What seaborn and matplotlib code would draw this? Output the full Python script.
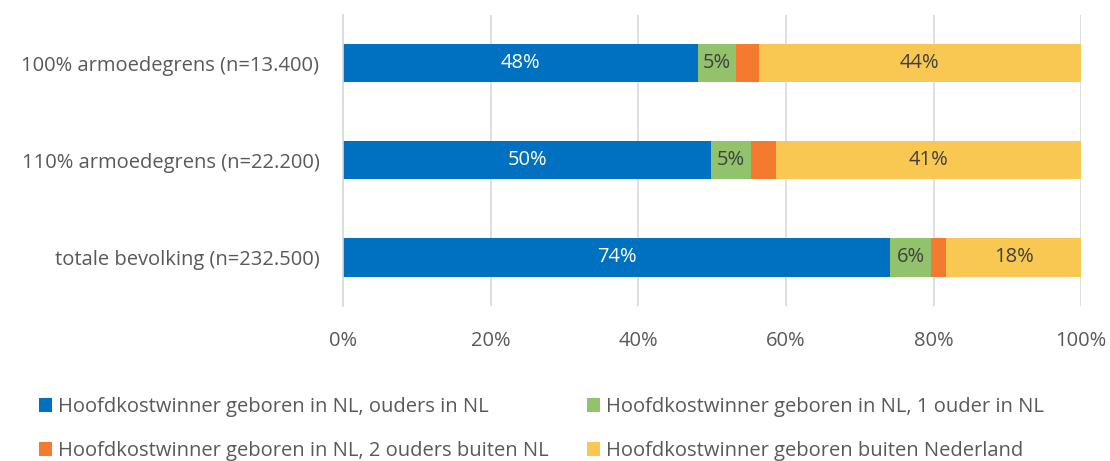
import numpy as np
import pandas as pd
import matplotlib
matplotlib.use("Agg")
import matplotlib.pyplot as plt
from matplotlib.patches import Patch
import seaborn as sns

sns.set_theme(style="white")
plt.rcParams['font.family'] = ['Open Sans', 'DejaVu Sans']

# ---- data ----
categories = ["100% armoedegrens (n=13.400)",
              "110% armoedegrens (n=22.200)",
              "totale bevolking (n=232.500)"]
series = ["Hoofdkostwinner geboren in NL, ouders in NL",
          "Hoofdkostwinner geboren in NL, 1 ouder in NL",
          "Hoofdkostwinner geboren in NL, 2 ouders buiten NL",
          "Hoofdkostwinner geboren buiten Nederland"]
nl_ouders_nl = [48.1, 49.9, 74.1]
nl_1_ouder = [5.2, 5.4, 5.6]
nl_2_ouders_buiten = [3.0, 3.3, 2.0]
buiten_nl = [43.7, 41.4, 18.3]
labels_shown = [True, True, False, True]

colors = ["#0070C0", "#92C26B", "#F47A30", "#F9C852"]
label_colors = ["white", "#404040", "#404040", "#404040"]
text_gray = "#595959"

df = pd.DataFrame({"cat": categories,
                   series[0]: nl_ouders_nl,
                   series[1]: nl_1_ouder,
                   series[2]: nl_2_ouders_buiten,
                   series[3]: buiten_nl})
cum = df[series].cumsum(axis=1)

fig = plt.figure(figsize=(11.1, 4.61), dpi=100)
ax = fig.add_axes([0.309, 0.337, 0.665, 0.6315])

# draw cumulative bars from right-most segment to left-most
for s, c in reversed(list(zip(series, colors))):
    sns.barplot(x=cum[s], y=df["cat"], color=c, width=0.4, ax=ax,
                saturation=1, linewidth=0, orient="h")

# segment labels
for i, s in enumerate(series):
    if not labels_shown[i]:
        continue
    start = cum[s] - df[s]
    for j in range(len(categories)):
        ax.text(start[j] + df[s][j] / 2, j, f"{df[s][j]:.0f}%",
                ha="center", va="center", fontsize=14.5, color=label_colors[i])

ax.set_xlim(0, 100)
ax.set_ylim(2.5, -0.5)
ax.set_xticks(np.arange(0, 101, 20))
ax.set_xticklabels([f"{v}%" for v in range(0, 101, 20)])
ax.set_xlabel("")
ax.set_ylabel("")
ax.grid(axis="x", color="#D9D9D9", linewidth=1.2)
ax.set_axisbelow(True)
for sp in ["top", "right", "bottom"]:
    ax.spines[sp].set_visible(False)
ax.spines["left"].set_color("#D9D9D9")
ax.spines["left"].set_linewidth(1.2)
ax.tick_params(axis="both", length=0, labelsize=14.5, colors=text_gray)
ax.tick_params(axis="x", pad=18)
ax.tick_params(axis="y", pad=17)

handles = [Patch(facecolor=c, edgecolor="none") for c in colors]
order = [0, 2, 1, 3]
fig.legend([handles[k] for k in order], [series[k] for k in order],
           loc="upper left", bbox_to_anchor=(0.019, 0.178), ncol=2,
           frameon=False, fontsize=14.5, labelcolor=text_gray,
           handlelength=0.65, handleheight=0.65, handletextpad=0.3,
           columnspacing=1.9, labelspacing=1.2)

fig.savefig("out.png", dpi=100)
